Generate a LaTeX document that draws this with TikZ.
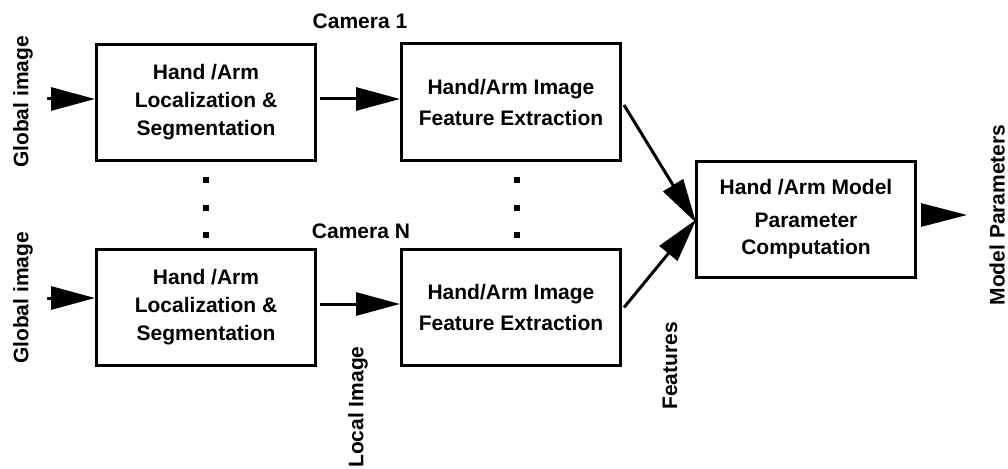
\documentclass[tikz,border=0pt]{standalone}
\usepackage{fontspec}
\setmainfont{Liberation Sans}
\usetikzlibrary{arrows.meta}
\tikzset{
  blk/.style={draw, line width=3pt, minimum width=219pt, minimum height=116pt, align=center, inner sep=0pt},
  lbl/.style={inner sep=0pt, font=\bfseries\fontsize{21}{28}\selectfont},
  conn/.style={line width=3pt, -{Triangle[length=44pt,width=23pt]}},
  dotsq/.style={fill=black, minimum size=6pt, inner sep=0pt},
}
\begin{document}
\begin{tikzpicture}[x=1pt,y=-1pt]
\useasboundingbox (0,0) rectangle (1008,468);
\node[blk, font=\bfseries\fontsize{21}{28}\selectfont] (L1) at (206,102.5) {Hand /Arm\\Localization \&\\Segmentation};
\node[blk, font=\bfseries\fontsize{21}{31}\selectfont] (R1) at (511,102) {Hand/Arm Image\\Feature Extraction};
\node[blk, font=\bfseries\fontsize{21}{28}\selectfont] (L2) at (206,307.5) {Hand /Arm\\Localization \&\\Segmentation};
\node[blk, font=\bfseries\fontsize{21}{31}\selectfont] (R2) at (511,307.5) {Hand/Arm Image\\Feature Extraction};
\node[blk, font=\bfseries\fontsize{21}{27}\selectfont] (M) at (806,219) {Hand /Arm Model\\[6pt]Parameter\\Computation};

\node[lbl] (cam1) at (360,21) {Camera 1};
\node[lbl] (camN) at (361,231) {Camera N};
\node[lbl, rotate=90] (g1) at (23,102) {Global image};
\node[lbl, rotate=90] (g2) at (23,298) {Global image};
\node[lbl, rotate=90] (loc) at (358,407) {Local Image};
\node[lbl, rotate=90] (feat) at (670,366) {Features};
\node[lbl, rotate=90] (mp) at (997,215) {Model Parameters};

\coordinate (in1) at (47,99);
\coordinate (in2) at (47,298);
\draw[conn] (in1) -- (L1.west |- in1);
\draw[conn] (in2) -- (L2.west |- in2);
\draw[conn] (L1.east |- in1) ++(3,0) coordinate (a1) -- (R1.west |- a1);
\draw[conn] ([xshift=3pt]L2.east |- 0,304) -- (R2.west |- 0,304);
\draw[conn, shorten >=-2pt] ([shift={(2pt,-3pt)}]R1.east) -- ([yshift=-2pt]M.west);
\draw[conn, shorten >=-2pt] ([shift={(2pt,0pt)}]R2.east) -- ([yshift=-2pt]M.west);
\coordinate (o1) at (921,215);
\coordinate (o2) at (967,215);
\draw[line width=3pt, -{Triangle[length=46pt,width=23pt]}] (o1) -- (o2);

\node[dotsq] (d1) at (206,180) {};
\node[dotsq] (d2) at (206,208) {};
\node[dotsq] (d3) at (206,235) {};
\node[dotsq] (d4) at (517,180) {};
\node[dotsq] (d5) at (517,208) {};
\node[dotsq] (d6) at (517,235) {};
\end{tikzpicture}
\end{document}
